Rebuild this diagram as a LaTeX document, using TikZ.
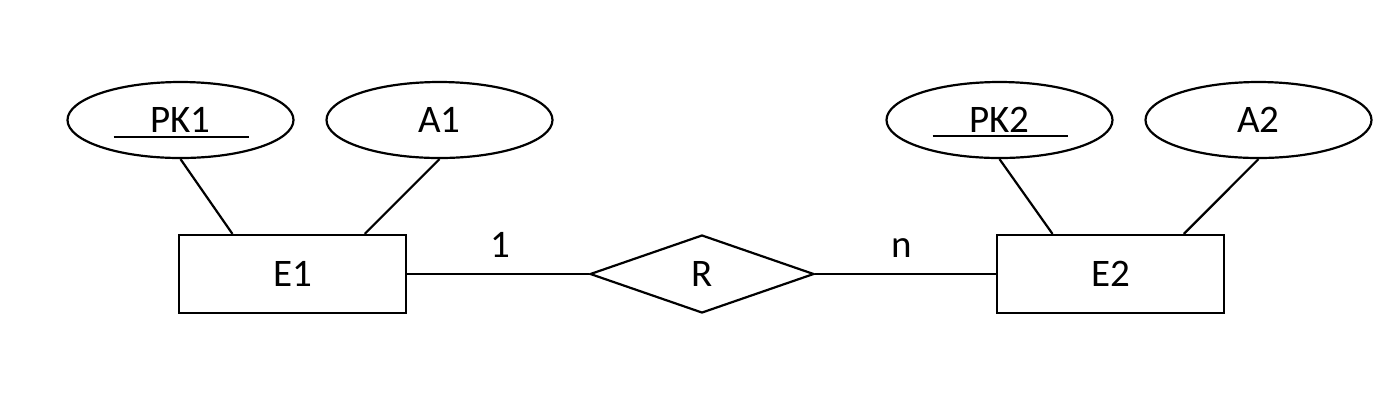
\documentclass[tikz,border=0pt]{standalone}
\usepackage{fontspec}
\setmainfont{Carlito}
\usetikzlibrary{shapes.geometric,calc}
\begin{document}
\begin{tikzpicture}[x=0.5pt,y=-0.5pt,
  every node/.style={font=\fontsize{19.5}{23}\selectfont},
  attr/.style={draw,ellipse,line width=1.1pt,minimum width=113pt,minimum height=38pt,inner sep=0pt},
  entity/.style={draw,rectangle,line width=1.1pt,minimum width=113.5pt,minimum height=39pt,inner sep=0pt},
  rel/.style={draw,diamond,line width=1.1pt,minimum width=112pt,minimum height=39pt,inner sep=0pt},
  conn/.style={line width=1.1pt},
  card/.style={anchor=base,inner sep=0pt}]
\useasboundingbox (0,0) rectangle (1400,404);
\node[attr] (pk1) at (180.5,120) {PK1};
\node[attr] (a1) at (439.5,120) {A1};
\node[attr] (pk2) at (999.5,120) {PK2};
\node[attr] (a2) at (1258.5,120) {A2};
\node[entity] (e1) at (292.5,274) {E1};
\node[entity] (e2) at (1110.5,274) {E2};
\node[rel] (r) at (702,274) {R};
\node[card] (c1) at (500,257) {1};
\node[card] (cn) at (902,257) {n};
\draw[conn] ($(pk1.center)+(-67,17)$) -- ++(135,0);
\draw[conn] ($(pk2.center)+(-67,16)$) -- ++(135,0);
\draw[conn] (pk1.south) -- ($(e1.north west)!0.238!(e1.north east)$);
\draw[conn] (a1.south) -- ($(e1.north west)!0.815!(e1.north east)$);
\draw[conn] (pk2.south) -- ($(e2.north west)!0.247!(e2.north east)$);
\draw[conn] (a2.south) -- ($(e2.north west)!0.82!(e2.north east)$);
\draw[conn] (e1.east) -- (r.west);
\draw[conn] (r.east) -- (e2.west);
\end{tikzpicture}
\end{document}
